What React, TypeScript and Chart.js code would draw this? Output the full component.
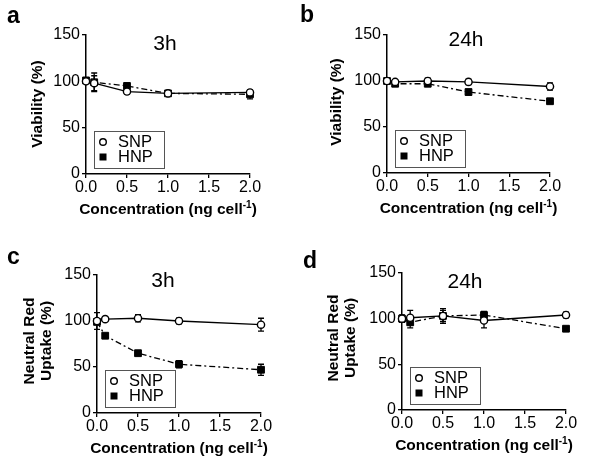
import React, { useEffect, useRef } from "react";
import { Chart, registerables } from "chart.js";
Chart.register(...registerables);

// ---------- data ----------
const concentrations = [0, 0.1, 0.5, 1.0, 2.0];
const seriesNames = ["SNP", "HNP"];

// (a) Viability 3h
const viab3hSNP = [100, 98, 89, 87, 88];
const viab3hSNPErr = [2, 8, 3, 2, 3];
const viab3hHNP = [101, 99, 95, 87, 86];
const viab3hHNPErr = [2, 10, 3, 2, 5];

// (b) Viability 24h
const viab24hSNP = [100, 99, 100, 99, 94];
const viab24hSNPErr = [1, 2, 3, 3, 4];
const viab24hHNP = [100, 97, 97, 88, 78];
const viab24hHNPErr = [1, 2, 2, 3, 2];

// (c) Neutral red uptake 3h
const nru3hSNP = [100, 102, 103, 100, 96];
const nru3hSNPErr = [9, 2, 4, 3, 7];
const nru3hHNP = [99, 84, 65, 53, 47];
const nru3hHNPErr = [2, 2, 2, 4, 6];

// (d) Neutral red uptake 24h
const nru24hSNP = [100, 101, 103, 98, 104];
const nru24hSNPErr = [4, 8, 8, 8, 3];
const nru24hHNP = [100, 96, 103, 104, 89];
const nru24hHNPErr = [3, 6, 6, 4, 2];

const xTickLabels = ["0.0", "0.5", "1.0", "1.5", "2.0"];
const yTickLabels = ["0", "50", "100", "150"];

const FONT = "'Liberation Sans', Arial, Helvetica, sans-serif";

type Panel = {
  letter: string;
  title: string;
  yTitle: string[];
  snp: number[];
  snpErr: number[];
  hnp: number[];
  hnpErr: number[];
  box: { left: number; top: number; w: number; h: number };
  area: { left: number; right: number; top: number; bottom: number };
  letterPos: { x: number; y: number };
  titlePos: { x: number; y: number };
  yTitleX: number[];
  yTitleY: number;
};

const panels: Panel[] = [
  {
    letter: "a", title: "3h", yTitle: ["Viability (%)"],
    snp: viab3hSNP, snpErr: viab3hSNPErr, hnp: viab3hHNP, hnpErr: viab3hHNPErr,
    box: { left: 0, top: 0, w: 300, h: 230 },
    area: { left: 86, right: 250, top: 35, bottom: 174 },
    letterPos: { x: 7, y: 23 }, titlePos: { x: 165, y: 50 },
    yTitleX: [38], yTitleY: 104,
  },
  {
    letter: "b", title: "24h", yTitle: ["Viability (%)"],
    snp: viab24hSNP, snpErr: viab24hSNPErr, hnp: viab24hHNP, hnpErr: viab24hHNPErr,
    box: { left: 300, top: 0, w: 300, h: 230 },
    area: { left: 87, right: 250, top: 35, bottom: 173 },
    letterPos: { x: 0, y: 22 }, titlePos: { x: 166, y: 46 },
    yTitleX: [37], yTitleY: 102,
  },
  {
    letter: "c", title: "3h", yTitle: ["Neutral Red", "Uptake (%)"],
    snp: nru3hSNP, snpErr: nru3hSNPErr, hnp: nru3hHNP, hnpErr: nru3hHNPErr,
    box: { left: 0, top: 230, w: 300, h: 239 },
    area: { left: 97, right: 261, top: 45, bottom: 183 },
    letterPos: { x: 7, y: 34 }, titlePos: { x: 163, y: 57 },
    yTitleX: [30, 47], yTitleY: 111,
  },
  {
    letter: "d", title: "24h", yTitle: ["Neutral Red", "Uptake (%)"],
    snp: nru24hSNP, snpErr: nru24hSNPErr, hnp: nru24hHNP, hnpErr: nru24hHNPErr,
    box: { left: 300, top: 230, w: 300, h: 239 },
    area: { left: 102, right: 266, top: 43, bottom: 180 },
    letterPos: { x: 3, y: 38 }, titlePos: { x: 165, y: 58 },
    yTitleX: [34, 51], yTitleY: 108,
  },
];

function makeDecorPlugin(p: Panel) {
  return {
    id: "decor" + p.letter,
    beforeDatasetsDraw(chart: any) {
      const ctx = chart.ctx;
      const xs = chart.scales.x;
      const ys = chart.scales.y;
      ctx.save();
      ctx.strokeStyle = "#000";
      ctx.lineWidth = 1.3;
      chart.data.datasets.forEach((ds: any) => {
        const errs: number[] = ds.errors;
        ds.data.forEach((pt: any, i: number) => {
          const e = errs[i];
          if (!e) return;
          const x = xs.getPixelForValue(pt.x);
          const y1 = ys.getPixelForValue(pt.y - e);
          const y2 = ys.getPixelForValue(pt.y + e);
          ctx.beginPath();
          ctx.moveTo(x, y1);
          ctx.lineTo(x, y2);
          ctx.moveTo(x - 3, y1);
          ctx.lineTo(x + 3, y1);
          ctx.moveTo(x - 3, y2);
          ctx.lineTo(x + 3, y2);
          ctx.stroke();
        });
      });
      ctx.restore();
    },
    afterDraw(chart: any) {
      const ctx = chart.ctx;
      const a = chart.chartArea;
      ctx.save();
      ctx.fillStyle = "#000";
      // panel letter
      ctx.font = `bold 23px ${FONT}`;
      ctx.textAlign = "left";
      ctx.textBaseline = "alphabetic";
      ctx.fillText(p.letter, p.letterPos.x, p.letterPos.y);
      // title
      ctx.font = `21px ${FONT}`;
      ctx.textAlign = "center";
      ctx.fillText(p.title, p.titlePos.x, p.titlePos.y);
      // y title
      ctx.font = `bold 15.5px ${FONT}`;
      p.yTitle.forEach((t, i) => {
        ctx.save();
        ctx.translate(p.yTitleX[i], p.yTitleY);
        ctx.rotate(-Math.PI / 2);
        ctx.textAlign = "center";
        ctx.textBaseline = "middle";
        ctx.fillText(t, 0, 0);
        ctx.restore();
      });
      // x title with superscript
      const main = "Concentration (ng cell";
      const sup = "-1";
      const close = ")";
      ctx.font = `bold 15.5px ${FONT}`;
      const wMain = ctx.measureText(main).width;
      const wClose = ctx.measureText(close).width;
      ctx.font = `bold 10px ${FONT}`;
      const wSup = ctx.measureText(sup).width;
      const total = wMain + wSup + wClose;
      const cx = (a.left + a.right) / 2;
      const base = a.bottom + 40;
      const x0 = cx - total / 2;
      ctx.textAlign = "left";
      ctx.font = `bold 15.5px ${FONT}`;
      ctx.fillText(main, x0, base);
      ctx.font = `bold 10px ${FONT}`;
      ctx.fillText(sup, x0 + wMain, base - 6);
      ctx.font = `bold 15.5px ${FONT}`;
      ctx.fillText(close, x0 + wMain + wSup, base);
      // legend box
      const lx = a.left + 8;
      const lh = 37;
      const lw = 70;
      const ly = a.bottom - 6 - lh;
      ctx.fillStyle = "#fff";
      ctx.fillRect(lx, ly, lw, lh);
      ctx.strokeStyle = "#555";
      ctx.lineWidth = 1;
      ctx.strokeRect(lx + 0.5, ly + 0.5, lw, lh);
      ctx.fillStyle = "#000";
      ctx.strokeStyle = "#000";
      ctx.lineWidth = 1.4;
      ctx.beginPath();
      ctx.arc(lx + 9, ly + 11, 3.3, 0, Math.PI * 2);
      ctx.stroke();
      ctx.fillRect(lx + 5.5, ly + 22.5, 7, 7);
      ctx.font = `16.5px ${FONT}`;
      ctx.textBaseline = "middle";
      ctx.fillText(seriesNames[0], lx + 24, ly + 11.5);
      ctx.fillText(seriesNames[1], lx + 24, ly + 26.5);
      ctx.restore();
    },
  };
}

function PanelChart({ p }: { p: Panel }) {
  const ref = useRef<HTMLCanvasElement | null>(null);
  useEffect(() => {
    if (!ref.current) return;
    const toPts = (arr: number[]) => arr.map((v, i) => ({ x: concentrations[i], y: v }));
    const tickFont = { family: FONT, size: 16 };
    const chart = new Chart(ref.current, {
      type: "line",
      data: {
        datasets: [
          {
            label: seriesNames[0],
            data: toPts(p.snp),
            errors: p.snpErr,
            borderColor: "#000",
            borderWidth: 1.3,
            pointStyle: "circle",
            pointRadius: 3.6,
            pointBorderWidth: 1.4,
            pointBackgroundColor: "#fff",
            pointBorderColor: "#000",
            fill: false,
            tension: 0,
            clip: false,
          } as any,
          {
            label: seriesNames[1],
            data: toPts(p.hnp),
            errors: p.hnpErr,
            borderColor: "#000",
            borderWidth: 1.3,
            borderDash: [6, 3, 2, 3],
            pointStyle: "rect",
            pointRadius: 4.8,
            pointBorderWidth: 1,
            pointBackgroundColor: "#000",
            pointBorderColor: "#000",
            fill: false,
            tension: 0,
            clip: false,
          } as any,
        ],
      },
      options: {
        animation: false,
        responsive: false,
        devicePixelRatio: 1,
        layout: {
          padding: {
            left: 0,
            top: p.area.top,
            right: p.box.w - p.area.right,
            bottom: 0,
          },
        },
        plugins: {
          legend: { display: false },
          tooltip: { enabled: false },
          title: { display: false },
        },
        scales: {
          x: {
            type: "linear",
            min: 0,
            max: 2,
            offset: false,
            afterBuildTicks: (s: any) => {
              s.ticks = xTickLabels.map((t) => ({ value: parseFloat(t) }));
            },
            ticks: {
              color: "#000",
              font: tickFont,
              padding: 0,
              maxRotation: 0,
              autoSkip: false,
              callback: (v: any) => Number(v).toFixed(1),
            },
            grid: {
              display: true,
              drawOnChartArea: false,
              drawTicks: true,
              tickLength: 4,
              color: "#000",
              lineWidth: 1.3,
            },
            border: { display: true, color: "#000", width: 1.5 },
            afterFit: (s: any) => {
              s.height = p.box.h - p.area.bottom;
            },
          },
          y: {
            type: "linear",
            min: 0,
            max: 150,
            afterBuildTicks: (s: any) => {
              s.ticks = yTickLabels.map((t) => ({ value: parseFloat(t) }));
            },
            ticks: {
              color: "#000",
              font: tickFont,
              padding: 2,
              autoSkip: false,
            },
            grid: {
              display: true,
              drawOnChartArea: false,
              drawTicks: true,
              tickLength: 4,
              color: "#000",
              lineWidth: 1.3,
            },
            border: { display: true, color: "#000", width: 1.5 },
            afterFit: (s: any) => {
              s.width = p.area.left;
            },
          },
        },
      } as any,
      plugins: [makeDecorPlugin(p)],
    });
    return () => chart.destroy();
  }, [p]);
  return (
    <canvas
      ref={ref}
      width={p.box.w}
      height={p.box.h}
      style={{
        position: "absolute",
        left: p.box.left,
        top: p.box.top,
        width: p.box.w,
        height: p.box.h,
      }}
    />
  );
}

export default function App() {
  return (
    <div
      style={{
        position: "absolute",
        left: 0,
        top: 0,
        width: 600,
        height: 469,
        background: "#fff",
        overflow: "hidden",
      }}
    >
      {panels.map((p) => (
        <PanelChart key={p.letter} p={p} />
      ))}
    </div>
  );
}
